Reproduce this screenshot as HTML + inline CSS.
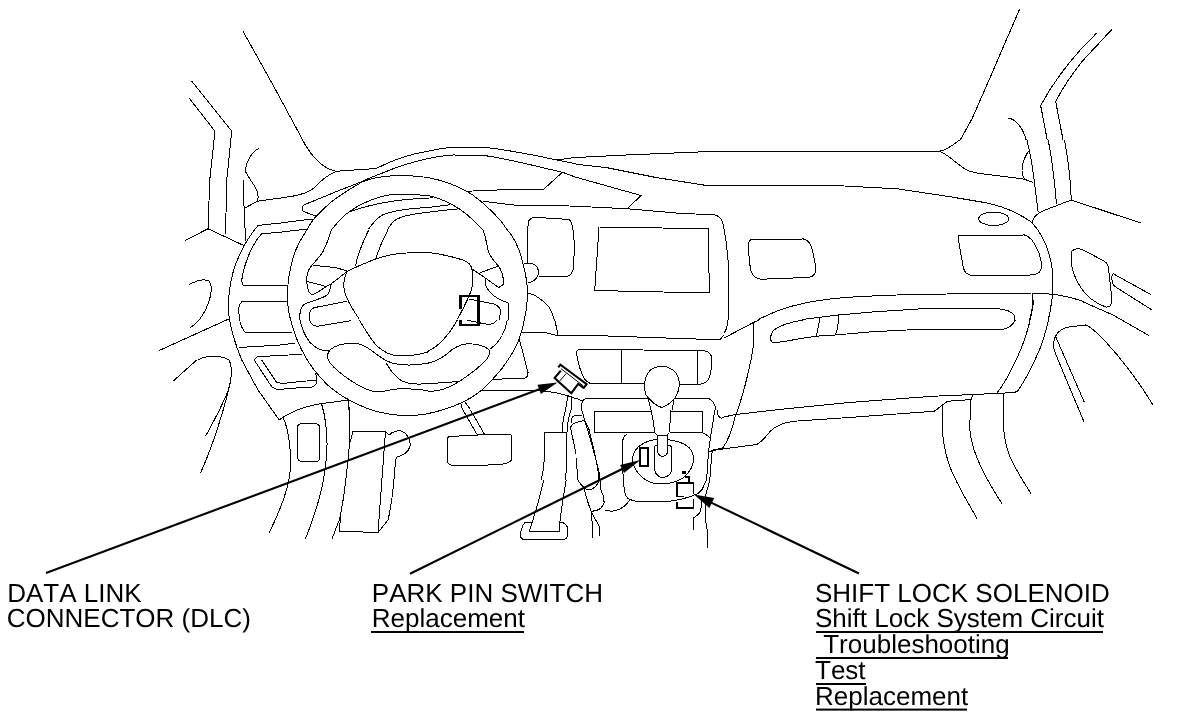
<!DOCTYPE html>
<html><head><meta charset="utf-8"><title>Shift Lock Component Location</title>
<style>
html,body{margin:0;padding:0;background:#fff;}
body{width:1184px;height:720px;overflow:hidden;position:relative;font-family:"Liberation Sans",sans-serif;}
svg{position:absolute;left:0;top:0;will-change:transform;}
.l path,.l line,.l rect,.l ellipse{fill:none;stroke:#000;}
.z8{stroke-width:8;}
.z4{stroke-width:4;}
.t{position:absolute;font-size:25px;line-height:26px;color:#000;white-space:nowrap;}
</style></head><body>
<svg width="1184" height="720" viewBox="0 0 1184 720" class="l" shape-rendering="crispEdges">
<g transform="translate(148,0) scale(0.25)" class="z4">
<path d="M380,125 L500,340 L600,525 L618,560"/>
<path d="M175,325 L335,525 L315,720"/>
<path d="M165,393 L268,525 L247,720"/>
<path d="M445,593 C410,610 385,660 392,690 L410,720"/>
</g>

<g transform="translate(148,180) scale(0.25)" class="z4">
<path d="M247,0 L240,195"/>
<path d="M315,0 L310,218"/>
<path d="M148,242 L240,195 L383,262"/>
<path d="M383,0 C382,90 388,200 392,245"/>
<path d="M410,0 C435,35 447,60 437,85"/>
<path d="M388,112 L437,85 L528,72"/>
<path d="M440,182 L528,172"/>
<path d="M455,215 L528,209"/>
<path d="M440,182 C400,230 360,300 340,370 C322,440 318,500 325,555 C335,610 350,660 375,720"/>
<path d="M455,215 C420,250 385,330 375,400 L378,420 L528,422"/>
<path d="M528,487 L375,487 C360,500 362,520 365,545 C368,580 378,600 392,612 L528,609"/>
<path d="M365,670 L528,660"/>
<path d="M165,418 C200,400 230,395 245,405 C262,430 250,480 230,520 C215,550 195,575 170,590"/>
<path d="M45,682 L325,555"/>
<path d="M200,720 C230,700 290,700 325,720"/>
<path d="M425,720 L435,708 L528,701"/>
</g>

<g transform="translate(148,360) scale(0.25)" class="z4">
<path d="M100,85 L195,0"/>
<path d="M325,0 C338,30 335,70 325,110 C300,180 260,250 230,305"/>
<path d="M335,50 C325,130 270,320 210,452"/>
<path d="M375,0 L440,120 L525,240 L540,228 C560,218 580,208 603,197"/>
<path d="M425,0 L490,100 C500,115 510,118 528,118"/>
<path d="M455,0 L515,90 L528,92"/>
<path d="M540,230 C565,280 575,380 568,450 C560,520 530,600 485,690"/>
<path d="M695,175 C715,250 722,350 708,440 C695,540 660,640 630,715"/>
<path d="M800,160 C810,230 810,320 800,400 C790,500 780,580 765,640 L735,718"/>
<path d="M613,255 L670,255 Q686,255 687,272 L688,388 Q688,405 672,405 L615,405 Q598,405 598,388 L598,270 Q598,255 613,255 Z"/>
<path d="M808,330 L820,285 L950,285 L920,690 L765,685 L770,630"/>
<path d="M950,285 L965,300 C975,288 1000,280 1015,285 C1040,295 1052,325 1048,345 C1042,370 1020,382 995,388 L990,400 C985,480 975,580 960,640 L920,690"/>
<path d="M888,198 C950,218 1000,222 1040,222 C1090,222 1140,212 1180,199"/>
</g>

<g transform="translate(576,140) scale(0.25)" class="z4">
<path d="M0,70 L200,60 L490,48 L920,45 L1184,45"/>
<path d="M0,97 L120,110 L320,150 L510,180 L1000,180 L1184,190"/>
<path d="M0,149 L260,222 L205,275"/>
<path d="M0,265 L205,275 L400,292 L555,300 C580,305 585,320 590,345 C605,420 612,500 612,580 L610,720"/>
<path d="M92,348 L530,355 L533,612 L75,602 Z"/>
<path d="M705,398 L910,396 C930,400 940,415 945,440 C955,480 960,510 958,525 C955,545 940,550 920,550 L740,557 C715,555 700,535 697,510 C692,470 688,430 690,415 C692,402 698,398 705,398 Z"/>
<path d="M730,718 C800,680 900,650 1000,638 C1080,628 1140,626 1184,624"/>
<path d="M905,718 L1050,700 L1184,688"/>
<path d="M1048,700 L1048,720"/>
<path d="M975,708 L975,720"/>
</g>

<g transform="translate(872,140) scale(0.25)" class="z4">
<path d="M0,45 L270,45"/>
<path d="M350,0 C325,20 300,40 270,45 C310,60 340,100 380,120 C400,130 420,132 440,135 L600,155 L645,170"/>
<path d="M0,190 L100,195 L300,225 L450,250 C530,265 590,295 640,330 C680,375 710,440 720,510 C728,570 722,650 705,720"/>
<path d="M625,45 C610,70 598,100 600,125 C602,145 612,160 625,162"/>
<path d="M620,0 C635,60 645,120 650,170 L665,290"/>
<path d="M705,0 C720,80 730,160 738,255"/>
<path d="M770,0 C785,80 795,160 797,240"/>
<path d="M640,330 C645,310 660,295 680,285 L797,240 L1075,332"/>
<ellipse cx="487" cy="315" rx="60" ry="27"/>
<path d="M350,382 L610,380 C635,385 650,410 665,445 C678,480 682,505 675,520 C668,535 650,540 630,540 L400,542 C380,540 370,530 365,510 L345,395 C343,385 345,382 350,382 Z"/>
<path d="M800,445 C808,435 825,432 845,440 L930,485 C945,495 948,510 948,530 L960,640 C960,660 950,670 935,668 C900,655 860,630 835,590 C805,545 788,490 800,445 Z"/>
<path d="M1115,618 L965,535 C955,545 958,570 970,585 L1120,680"/>
<path d="M0,622 L350,615 L640,612 C720,612 800,630 845,645"/>
<path d="M640,612 C645,650 640,690 630,720"/>
<path d="M0,688 L200,675 L500,675 C550,678 575,695 572,720"/>
</g>

<g transform="translate(872,0) scale(0.26351)" class="z4">
<path d="M560,35 L450,290 L380,450 L335,531"/>
<path d="M853,125 L790,190 C740,245 690,310 640,400 L665,531"/>
<path d="M910,112 L800,230 C760,280 720,340 697,385 L725,531"/>
<path d="M517,448 C545,450 575,490 585,531"/>
</g>

<g transform="translate(724,320) scale(0.25)" class="z4">
<path d="M0,72 L118,10 L140,0"/>
<path d="M118,10 C122,50 120,100 110,150 C95,225 75,300 55,360 L45,385 C35,430 20,480 -6,512 L-51,522"/>
<path d="M12,0 C15,20 10,40 0,52"/>
<path d="M315,0 C270,8 225,20 200,40 C185,55 182,80 192,89 C210,92 250,85 285,78 L365,65 L445,60 L592,47 L770,38 L1000,37 L1110,38 C1140,35 1155,20 1165,0"/>
<path d="M382,0 L370,64"/>
<path d="M458,0 C456,25 452,45 445,60"/>
<path d="M0,388 L45,378 L250,355 L500,330 L835,305 L1000,298 L1165,290"/>
<path d="M-51,522 L130,498 C150,490 165,470 185,445 C210,420 240,410 280,405 L500,390 L840,365 C860,355 875,335 895,325 L990,318 L995,298"/>
<path d="M875,345 L875,400"/>
<path d="M985,318 L985,400"/>
<path d="M1120,293 C1116,330 1116,370 1118,400"/>
</g>

<g transform="translate(888,300) scale(0.25)" class="z4">
<path d="M583,0 C575,60 560,130 530,200 C500,270 470,330 435,373"/>
<path d="M655,0 C650,50 635,120 610,190 C580,260 550,320 520,362 C512,370 505,372 490,372"/>
<path d="M775,5 L900,60 L1045,143"/>
<path d="M670,145 C680,125 700,112 725,108 L790,100 C810,105 830,125 860,155 C920,220 1000,320 1060,420"/>
<path d="M670,145 C660,165 660,190 670,215 L785,490"/>
<path d="M672,150 L785,408"/>
</g>

<g transform="translate(888,420) scale(0.25)" class="z4">
<path d="M218,0 C215,60 225,120 245,180 C270,250 320,330 358,398"/>
<path d="M325,0 C325,50 335,100 355,150 C380,210 420,280 458,338"/>
<path d="M462,0 C460,40 468,90 485,140 C510,200 545,250 573,297"/>
</g>

<g transform="translate(280,140) scale(0.125)" class="z8">
<path d="M180,0 C250,130 340,230 450,250 L770,228 C900,160 1050,110 1184,90"/>
<path d="M450,250 C390,275 330,320 270,385 C240,415 200,430 100,450 L0,465"/>
<path d="M190,520 L470,405 L650,335 C720,300 780,280 830,260 C900,230 1000,190 1184,148"/>
<path d="M190,520 C175,540 178,560 187,572 L290,610"/>
<path d="M215,720 C240,670 270,630 290,610 C340,560 400,500 430,480 C500,428 580,380 650,340 C720,305 800,290 950,283 C1030,283 1100,290 1184,300"/>
<path d="M410,720 C450,670 480,640 520,600 C560,570 600,540 640,520 C700,490 750,470 800,455 C850,440 900,435 950,435 C1030,433 1100,438 1184,445"/>
<path d="M560,575 C600,555 650,545 700,530 C780,510 850,497 900,490 C1000,475 1100,468 1184,465"/>
<path d="M710,710 C740,670 780,620 820,600 C880,575 940,565 1000,555 C1060,548 1120,543 1184,540"/>
<path d="M860,720 C880,680 910,645 940,630 C980,612 1020,602 1060,595 L1184,578"/>
<path d="M0,665 L150,645 L265,632"/>
<path d="M150,715 L215,715"/>
</g>

<g transform="translate(280,230) scale(0.125)" class="z8">
<path d="M215,0 C160,80 110,180 90,280 C70,360 60,440 60,520 C60,600 70,670 85,720"/>
<path d="M410,0 C395,60 370,120 345,170 C315,220 275,260 245,295 C215,335 212,380 215,420 C218,470 225,500 250,515 C280,520 330,480 370,452 L410,430 L540,330"/>
<path d="M265,283 C330,290 400,295 440,300 C480,310 510,320 540,330"/>
<path d="M210,410 L370,452"/>
<path d="M410,430 C405,470 390,510 370,525 C340,545 250,570 190,595 C165,620 155,670 160,720"/>
<path d="M1184,178 C1100,178 1000,182 900,195 C800,215 680,260 540,330 C515,370 505,430 515,490 C530,550 570,620 635,715"/>
<path d="M710,0 C680,60 640,150 615,235 L605,288"/>
<path d="M865,0 C830,60 790,150 765,235"/>
<path d="M535,570 L270,622 C240,640 228,680 235,720"/>
<path d="M0,442 L60,442"/>
<path d="M0,572 L62,572"/>
<path d="M0,18 L150,0"/>
</g>

<g transform="translate(428,140) scale(0.125)" class="z8">
<path d="M0,90 C60,75 120,65 190,58 L450,58 C600,75 800,110 1030,160 L1184,190"/>
<path d="M1030,160 L1184,138"/>
<path d="M0,148 C60,135 120,125 200,120 L430,122 C550,135 700,170 850,205 C950,230 1020,245 1075,258 L1184,298"/>
<path d="M1075,258 L925,395 L600,398 L310,410"/>
<path d="M0,300 C100,320 200,350 310,410 C400,460 470,530 530,590 C580,640 610,680 635,720"/>
<path d="M0,445 C60,455 120,480 180,510 C250,545 320,600 370,650 C400,680 420,700 440,720"/>
<path d="M0,465 L40,462"/>
<path d="M0,540 L100,528 L180,518"/>
<path d="M0,578 L100,565 L250,550"/>
<path d="M440,490 L700,522 L1050,525 L1184,530"/>
<path d="M795,720 L805,650 C815,630 830,620 850,618 L1120,635 C1140,640 1150,660 1152,680 L1158,720"/>
</g>

<g transform="translate(428,230) scale(0.125)" class="z8">
<path d="M635,0 C690,60 730,150 755,250 C780,340 795,430 795,500 C795,580 785,660 770,720"/>
<path d="M440,0 C460,50 470,110 480,160 C490,200 520,240 560,285 C590,320 605,370 603,435 L565,460 L460,385 L350,310"/>
<path d="M415,342 L560,290"/>
<path d="M0,180 C100,190 200,215 280,240 C320,255 345,280 350,310 C360,350 365,400 350,470 C340,510 310,570 280,630 L235,715"/>
<path d="M460,385 C450,430 470,480 520,520 C550,545 590,570 640,580 C648,620 645,680 640,720"/>
<path d="M325,552 C400,565 470,580 520,590 C560,600 580,630 580,660 L570,720"/>
<path d="M795,0 L795,265"/>
<path d="M1165,0 C1170,100 1170,250 1160,320 C1150,355 1130,370 1100,372 L885,372"/>
<path d="M765,268 L830,268 C870,275 885,310 882,350 C880,385 850,410 800,425"/>
<path d="M795,505 C850,510 920,560 970,620 C990,650 1005,690 1010,720"/>
</g>
<path d="M460.3,309 L460.3,296 L478.5,296 L478.5,325 L460.3,325 L460.3,319.5" style="stroke-width:2.4" stroke-linejoin="miter"/>

<g transform="translate(280,320) scale(0.125)" class="z8">
<path d="M85,0 C110,100 150,200 200,290 C250,380 310,450 380,520 C440,570 490,610 545,635 C600,665 660,695 720,715"/>
<path d="M160,0 C175,70 200,130 240,180 C280,220 320,245 370,245 L400,240"/>
<path d="M400,240 C440,200 520,185 600,185 C660,190 720,230 780,280 C820,310 850,330 900,345 C980,365 1080,365 1184,345"/>
<path d="M400,240 C375,270 375,310 400,345 C440,390 500,440 560,480 C620,520 680,555 740,570 C790,575 850,570 900,555 C960,548 1060,548 1184,565"/>
<path d="M635,0 C670,60 720,140 760,190 C800,235 850,265 900,280 C980,295 1100,285 1184,255"/>
<path d="M850,345 C880,400 920,450 970,485 C1020,510 1100,518 1184,508"/>
<path d="M235,0 C245,30 265,48 300,50 L570,5"/>
<path d="M0,100 L95,97"/>
<path d="M0,200 L120,185"/>
<path d="M0,285 L180,272"/>
<path d="M0,510 L180,490 L295,483"/>
<path d="M0,555 L150,542 L255,538 C285,525 298,500 295,480 L285,425"/>
<path d="M150,715 C220,690 320,668 400,660 L545,640 L555,720"/>
<path d="M330,668 L345,720"/>
</g>

<g transform="translate(428,320) scale(0.125)" class="z8">
<path d="M770,0 C760,60 745,110 730,150 C700,230 650,310 590,390 C540,450 490,510 430,560 C380,600 320,640 260,665 C210,690 160,705 120,718"/>
<path d="M635,0 C620,90 570,180 500,232"/>
<path d="M0,250 C80,215 170,120 235,0"/>
<path d="M0,345 C60,335 110,305 160,265 C200,225 250,195 320,190 C390,190 450,205 488,238 C500,260 490,290 465,320 C420,370 350,425 250,492"/>
<path d="M0,510 L250,492"/>
<path d="M0,572 C80,572 170,545 250,492"/>
<path d="M310,0 L410,22 C450,30 480,38 500,35 C525,30 540,15 550,0"/>
<path d="M745,100 L940,100 L1020,122 L1184,122"/>
<path d="M1015,0 L1040,120"/>
<path d="M730,150 L800,420 C800,450 790,462 770,465 L520,475"/>
<path d="M430,565 L850,565 L950,570 C1050,585 1130,605 1184,630"/>
<path d="M1120,600 L1100,720"/>
<path d="M1150,610 L1148,720"/>
<path d="M262,668 L278,720"/>
<path d="M295,655 L340,715"/>
</g>

<g transform="translate(576,320) scale(0.125)" class="z8">
<path d="M0,122 L170,125 L600,140 L1050,155 L1150,158 L1184,120"/>
<path d="M545,510 L125,510 C100,505 80,490 60,460 C40,420 20,350 8,290 C0,265 5,245 20,238 L200,235 L540,240 L840,245 L1020,245 C1060,250 1085,275 1085,310 C1085,360 1080,420 1070,450 C1060,490 1030,510 990,515 L830,515"/>
<path d="M365,238 L365,510"/>
<path d="M970,245 L970,515"/>
<path d="M560,600 C535,520 550,420 620,385 C660,365 720,365 760,390 C830,430 840,520 810,590 C790,640 740,680 685,700 C640,685 590,640 560,600 Z"/>
<path d="M575,620 L600,720"/>
<path d="M785,625 L770,720"/>
<path d="M0,625 L50,650 C60,635 80,628 100,628 L575,628"/>
<path d="M785,628 L1060,628 C1090,635 1110,670 1120,720"/>
<path d="M50,650 L42,720"/>
</g>

<g transform="translate(576,410) scale(0.125)" class="z8">
<path d="M600,10 L148,10 L148,180 L630,180"/>
<path d="M760,10 L1010,10 L1010,180 L750,180"/>
<path d="M600,0 C615,60 625,120 630,180 L650,200 L730,200 L748,180 C750,120 755,60 760,0"/>
<path d="M650,200 L650,330 C660,360 680,370 695,370 C715,368 730,355 732,330 L732,200"/>
<path d="M650,285 C640,280 630,285 628,300 L628,480 C640,520 670,540 700,540 C735,535 760,510 765,480 L765,300 C762,288 750,282 735,285"/>
<path d="M650,235 C560,245 470,290 455,370 C445,450 500,540 600,580 C680,605 790,590 860,540 C920,490 950,420 935,350 C915,280 820,245 732,238"/>
<path d="M405,195 C385,205 375,225 372,260 L375,500 L380,560"/>
<path d="M1010,180 C1040,195 1060,210 1075,225 L1060,330 C1055,400 1050,480 1045,560"/>
<path d="M1110,0 C1100,80 1085,160 1075,225"/>
<path d="M1060,330 L1090,330 L1184,300"/>
<path d="M1090,330 C1082,400 1076,480 1070,560"/>
<path d="M1130,0 C1130,30 1140,55 1160,65 L1184,62"/>
<path d="M0,45 L50,40"/>
<path d="M45,0 L60,45"/>
<path d="M0,100 L60,85 C90,100 105,150 115,200 C140,300 170,420 180,520 L180,560"/>
<path d="M0,380 C5,440 12,500 15,560"/>
<path d="M60,50 C100,180 150,350 185,500 L200,640"/>
<rect x="512" y="306" width="64" height="140" style="stroke-width:14"/>
</g>

<g transform="translate(576,470) scale(0.125)" class="z8">
<path d="M380,80 L385,150 C390,200 400,225 430,235 C450,245 470,250 500,252 L750,250 C800,245 860,232 935,205 C980,190 1010,165 1020,130 C1030,110 1038,95 1045,80"/>
<path d="M15,80 C25,100 40,120 65,140 C75,150 90,158 110,160 C150,150 180,110 185,80"/>
<path d="M65,140 C75,200 95,260 120,330"/>
<path d="M200,160 C215,190 225,220 225,260 C215,300 180,325 130,330 L120,330"/>
<path d="M120,330 C130,400 135,470 130,545"/>
<path d="M120,330 L185,450 L188,528"/>
<path d="M235,320 C280,340 340,325 380,295 C410,270 425,250 430,235"/>
<path d="M1040,190 L1033,260 L1035,400 L1050,480 L1052,622"/>
<path d="M1070,80 C1065,110 1050,150 1040,190"/>
<path d="M1020,130 C1010,160 995,180 975,190"/>
<path d="M1005,230 C1005,280 1000,320 990,345 L940,385 L940,480"/>
<g style="stroke-width:13">
<path d="M940,190 L940,106 L810,106 L810,212" stroke-linejoin="miter"/>
<path d="M810,256 L810,302 L940,302 L940,230" stroke-linejoin="miter"/>
<path d="M810,212 L860,214" style="stroke-width:9"/>
<path d="M875,58 L906,58 L906,106"/>
<rect x="852" y="12" width="20" height="16" style="fill:#000"/>
</g>
</g>

<g transform="translate(428,410) scale(0.125)" class="z8">
<path d="M175,212 L400,200 L650,195 C665,195 670,205 670,220 L668,400 C660,415 640,425 600,432 L450,442 L185,442 C165,435 155,420 155,400 L155,235 C155,220 162,213 175,212 Z"/>
<path d="M280,0 L395,200"/>
<path d="M340,0 L455,200"/>
<path d="M935,180 L1105,180"/>
<path d="M935,180 L930,400 C925,460 918,510 905,560"/>
<path d="M1105,180 L1112,400 C1111,460 1105,510 1098,560"/>
<path d="M1100,0 C1085,50 1075,110 1075,180"/>
<path d="M1145,0 C1125,50 1115,110 1112,180"/>
<path d="M1184,45 L1155,50 L1145,100"/>
<path d="M1184,100 C1160,110 1145,125 1140,140 L1184,350"/>
</g>

<g transform="translate(428,480) scale(0.125)" class="z8">
<path d="M925,0 C900,120 860,260 810,410 L1050,410 L1055,340 C1070,200 1090,100 1105,0"/>
<path d="M830,340 L775,342 C755,360 740,410 740,440 C740,465 755,478 780,478 L1080,478 C1105,475 1120,455 1118,420 L1115,380 C1110,355 1090,342 1060,338"/>
</g>

<g style="stroke-width:2.1" stroke-linejoin="miter" shape-rendering="auto">
<path d="M558.3,367.4 L560.4,364.6 L586.6,384.1 L583.2,388.6"/>
<path d="M560.8,370.6 L554.6,378 L558.9,382 L571.3,393.2 L578.2,383.9 L583.2,387.6"/>
<path d="M560.9,368.6 L583.3,385.9" style="stroke-width:1"/>
<path d="M566.2,373.6 L559.6,381.2" style="stroke-width:1"/>
</g>

<g style="stroke-width:2.1" shape-rendering="auto">
<line x1="46.0" y1="573.0" x2="542.0" y2="388.3"/>
<path d="M557.5,382.5 L540.9,393.9 L537.5,384.7 Z" style="fill:#000;stroke:none"/>
<line x1="410.0" y1="573.8" x2="624.7" y2="467.7"/>
<path d="M640.4,460.0 L624.0,473.0 L620.1,465.1 Z" style="fill:#000;stroke:none"/>
<line x1="859.0" y1="573.5" x2="709.1" y2="501.6"/>
<path d="M694.0,494.4 L714.2,498.0 L709.4,507.9 Z" style="fill:#000;stroke:none"/>
</g>

<g style="font-family:'Liberation Sans',sans-serif;font-size:26px;font-kerning:none;" shape-rendering="auto" text-rendering="geometricPrecision">
<text x="7.2" y="602" style="fill:#000;stroke:none" xml:space="preserve">DATA LINK</text>
<text x="6.8" y="627" style="fill:#000;stroke:none" xml:space="preserve">CONNECTOR (DLC)</text>
<text x="371.8" y="602" style="fill:#000;stroke:none" xml:space="preserve">PARK PIN SWITCH</text>
<text x="371.8" y="627" style="fill:#000;stroke:none" xml:space="preserve">Replacement</text>
<text x="815" y="602" style="fill:#000;stroke:none" xml:space="preserve">SHIFT LOCK SOLENOID</text>
<text x="815" y="627" style="fill:#000;stroke:none" xml:space="preserve">Shift Lock System Circuit</text>
<text x="816" y="653" style="fill:#000;stroke:none" xml:space="preserve"> Troubleshooting</text>
<text x="815" y="679" style="fill:#000;stroke:none" xml:space="preserve">Test</text>
<text x="815" y="705" style="fill:#000;stroke:none" xml:space="preserve">Replacement</text>
</g>
<g>
<rect x="371" y="631" width="153" height="2" style="fill:#000;stroke:none" shape-rendering="auto"/>
<rect x="816" y="631" width="287" height="2" style="fill:#000;stroke:none" shape-rendering="auto"/>
<rect x="816" y="657" width="192" height="2" style="fill:#000;stroke:none" shape-rendering="auto"/>
<rect x="816" y="683" width="50" height="2" style="fill:#000;stroke:none" shape-rendering="auto"/>
<rect x="816" y="708.6" width="151" height="2" style="fill:#000;stroke:none" shape-rendering="auto"/>
</g>

</svg>
</body></html>
